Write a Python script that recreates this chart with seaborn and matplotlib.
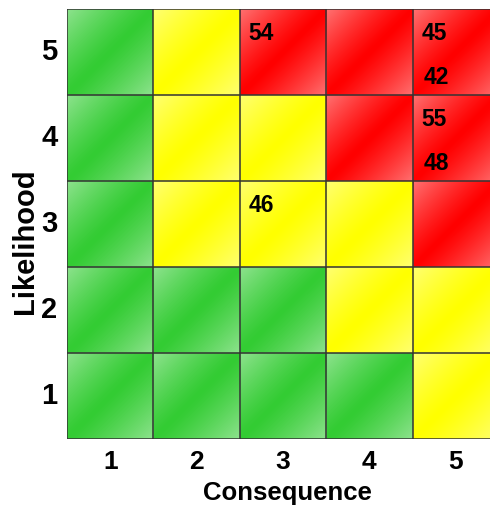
import numpy as np
import pandas as pd
import matplotlib
matplotlib.use('Agg')
import matplotlib.pyplot as plt
from matplotlib.colors import ListedColormap
import seaborn as sns

sns.set_style('white')
plt.rcParams['font.family'] = ['Liberation Sans', 'DejaVu Sans']
plt.rcParams['font.weight'] = 'bold'
plt.rcParams['text.color'] = 'black'
plt.rcParams['axes.labelcolor'] = 'black'
plt.rcParams['xtick.color'] = 'black'
plt.rcParams['ytick.color'] = 'black'

# --- data ---
consequence = [1, 2, 3, 4, 5]
likelihood = [5, 4, 3, 2, 1]          # top row first
# 0 = low (green), 1 = medium (yellow), 2 = high (red)
level_l5 = [0, 1, 2, 2, 2]
level_l4 = [0, 1, 1, 2, 2]
level_l3 = [0, 1, 1, 1, 2]
level_l2 = [0, 0, 0, 1, 1]
level_l1 = [0, 0, 0, 0, 1]

risk_ids = ['54', '45', '42', '55', '48', '46']
risk_consequence = [3, 5, 5, 5, 5, 3]
risk_likelihood = [5, 5, 5, 4, 4, 3]
risk_slot = [0, 0, 1, 0, 1, 0]        # 0 = upper entry in cell, 1 = lower entry

levels = pd.DataFrame([level_l5, level_l4, level_l3, level_l2, level_l1],
                      index=likelihood, columns=consequence)

# --- layout ---
base_colors = ['#33cc33', '#ffff00', '#ff0000']
slot_offset = {0: (0.25, 0.28), 1: (0.28, 0.80)}

fig = plt.figure(figsize=(4.9, 5.07), dpi=100)
ax = fig.add_axes([67 / 490, 68 / 507, 432 / 490, 430 / 507])

sns.heatmap(levels, cmap=ListedColormap(base_colors), vmin=-0.5, vmax=2.5,
            cbar=False, linewidths=0, ax=ax)

# glossy diagonal shading over each cell
n = 60
u = (np.arange(n) + 0.5) / n
U, W = np.meshgrid(u, u)
alpha = 0.45 * np.abs(U + W - 1) ** 1.2
tile = np.zeros((n, n, 4))
tile[..., :3] = 1.0
tile[..., 3] = alpha
shade = np.tile(tile, (len(likelihood), len(consequence), 1))
ax.imshow(shade, extent=(0, len(consequence), len(likelihood), 0),
          aspect='auto', interpolation='bilinear', zorder=2)
ax.set_xlim(0, len(consequence))
ax.set_ylim(len(likelihood), 0)

for k in range(len(consequence) + 1):
    ax.axvline(k, color='#333333', lw=1.1, zorder=3)
for k in range(len(likelihood) + 1):
    ax.axhline(k, color='#333333', lw=1.1, zorder=3)

for rid, c, l, s in zip(risk_ids, risk_consequence, risk_likelihood, risk_slot):
    col = consequence.index(c)
    row = likelihood.index(l)
    dx, dy = slot_offset[s]
    ax.text(col + dx, row + dy, rid, ha='center', va='center',
            fontsize=16.5, fontweight='bold', color='black', zorder=4)

ax.tick_params(axis='both', length=0, colors='black')
ax.tick_params(axis='x', labelsize=19, pad=8)
ax.tick_params(axis='y', labelsize=21, pad=7)
ax.set_yticklabels(likelihood, rotation=0, fontweight='bold')
ax.set_xticklabels(consequence, fontweight='bold')
ax.set_xlabel('Consequence', fontsize=18.5, fontweight='bold', color='black')
ax.set_ylabel('Likelihood', fontsize=21, fontweight='bold', color='black')
ax.xaxis.set_label_coords((287 - 67) / 432, -(481 - 439) / 430)
ax.yaxis.set_label_coords(-(67 - 39) / 432, (439 - 241) / 430)

fig.savefig('out.png', dpi=100)
